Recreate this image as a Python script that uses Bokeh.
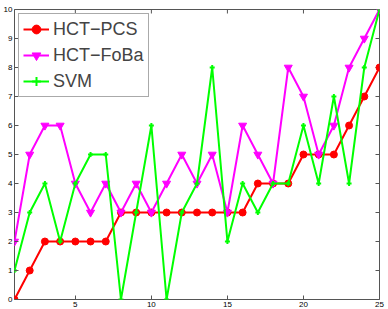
import math
from bokeh.plotting import figure
from bokeh.models import Range1d, FixedTicker, Legend, LegendItem
from bokeh.embed import file_html
from bokeh.resources import INLINE

x = list(range(1, 26))
hct_pcs = [0, 1, 2, 2, 2, 2, 2, 3, 3, 3, 3, 3, 3, 3, 3, 3, 4, 4, 4, 5, 5, 5, 6, 7, 8]
hct_foba = [2, 5, 6, 6, 4, 3, 4, 3, 4, 3, 4, 5, 4, 5, 3, 6, 5, 4, 8, 7, 5, 6, 8, 9, 10]
svm = [1, 3, 4, 2, 4, 5, 5, 0, 3, 6, 0, 3, 4, 8, 2, 4, 3, 4, 4, 6, 4, 7, 4, 8, 10]
x_ticks = [5, 10, 15, 20, 25]
y_ticks = list(range(0, 11))
labels = ["HCT\u2212PCS", "HCT\u2212FoBa", "SVM"]
x_min, x_max = 1, 25
y_min, y_max = 0, 10

p = figure(width=388, height=309, output_backend="svg", toolbar_location=None,
           x_range=Range1d(x_min, x_max), y_range=Range1d(y_min, y_max),
           min_border_left=12, min_border_right=9, min_border_top=9, min_border_bottom=10)
p.xgrid.visible = False
p.ygrid.visible = False
p.outline_line_color = "#555555"
p.outline_line_width = 1
p.background_fill_color = "white"
p.border_fill_color = "white"

font = "Liberation Sans"
tick_col = "#555555"
for ax in (p.xaxis[0], p.yaxis[0]):
    ax.major_tick_in = 4
    ax.major_tick_out = 0
    ax.minor_tick_in = 0
    ax.minor_tick_out = 0
    ax.axis_line_color = None
    ax.major_tick_line_color = tick_col
    ax.major_label_text_font = font
    ax.major_label_text_font_size = "8px"
    ax.major_label_text_color = "black"
    ax.major_label_standoff = 2
p.xaxis[0].ticker = FixedTicker(ticks=x_ticks)
p.yaxis[0].ticker = FixedTicker(ticks=y_ticks)

# mirrored inward tick marks on the top and right edges (half of each dash is clipped by the frame)
p.scatter(x_ticks, [y_max] * len(x_ticks), marker="dash", angle=math.pi / 2, size=8,
          line_color=tick_col, line_width=1)
p.scatter([x_max] * len(y_ticks), y_ticks, marker="dash", size=8,
          line_color=tick_col, line_width=1)

r1 = p.line(x, hct_pcs, line_color="#ff0000", line_width=2)
m1 = p.scatter(x, hct_pcs, marker="circle", size=7, fill_color="#ff0000", line_color="#ff0000")
r2 = p.line(x, hct_foba, line_color="#ff00ff", line_width=2)
m2 = p.scatter(x, hct_foba, marker="inverted_triangle", size=8, fill_color="#ff00ff", line_color="#ff00ff")
r3 = p.line(x, svm, line_color="#00ff00", line_width=2)
m3 = p.scatter(x, svm, marker="cross", size=5, line_color="#00ff00", line_width=2)

legend = Legend(items=[LegendItem(label=labels[0], renderers=[r1, m1]),
                       LegendItem(label=labels[1], renderers=[r2, m2]),
                       LegendItem(label=labels[2], renderers=[r3, m3])],
                location="top_left")
legend.margin = 4
legend.padding = 4
legend.spacing = 4
legend.glyph_width = 26
legend.glyph_height = 22
legend.label_standoff = 4
legend.label_text_font = font
legend.label_text_font_size = "18px"
legend.label_height = 22
legend.border_line_color = "#555555"
legend.border_line_width = 1
legend.background_fill_color = "white"
legend.background_fill_alpha = 1
p.add_layout(legend, "center")

open("out.html", "w").write(file_html(p, INLINE))
